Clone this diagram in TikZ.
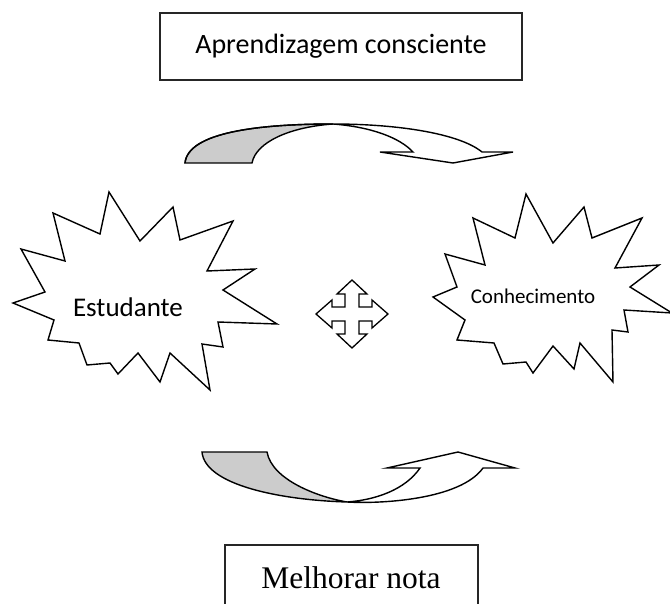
\documentclass[tikz,border=0pt]{standalone}
\usepackage{fontspec}
\setmainfont{Liberation Serif}
\newfontfamily\calib{Carlito}
\begin{document}
\begin{tikzpicture}[x=1pt,y=-1pt,
  outline/.style={draw=black,line width=1.4pt,line join=miter},
  boxline/.style={draw=black!85,line width=1.6pt},
  grayfill/.style={outline,fill=black!20},
  whitefill/.style={outline,fill=white}]
\useasboundingbox (0,0) rectangle (670,604);
\clip (0,0) rectangle (670,604);

% top box
\draw[boxline] (160,13) rectangle (522,80);
\node (top) at (341,46.5) {\calib\fontsize{28}{32}\selectfont Aprendizagem consciente};

% bottom box
\draw[boxline] (225,545) rectangle (478,640);
\node (bot) at (351,578) {\fontsize{31.5}{36}\selectfont Melhorar nota};

% Estudante star
\draw[outline] (109,192) -- (140,241) -- (173,207) -- (180,240) -- (233,221) -- (207,271)
  -- (255,269) -- (223,290) -- (277,324) -- (218,322) -- (223,347) -- (202,344)
  -- (210,390) -- (170,353) -- (160,382) -- (138,353) -- (118,374) -- (110,363)
  -- (87,365) -- (79,343) -- (48,340) -- (54,320) -- (13,303) -- (45,292)
  -- (21,249) -- (65,261) -- (53,213) -- (100,234) -- cycle;
\node (stud) at (128,307) {\calib\fontsize{27}{30}\selectfont Estudante};

% Conhecimento star
\draw[outline] (526,194) -- (553,243) -- (584,207) -- (592,238) -- (642,218) -- (615,268)
  -- (659,265) -- (630,287) -- (672,313) -- (624,310) -- (628,332) -- (612,330)
  -- (613,382) -- (580,343) -- (574,369) -- (553,346) -- (533,373) -- (526,362)
  -- (503,364) -- (494,343) -- (457,340) -- (465,320) -- (433,297) -- (457,287)
  -- (445,254) -- (485,265) -- (473,218) -- (515,238) -- cycle;
\node (know) at (533,296) {\calib\fontsize{21}{24}\selectfont Conhecimento};

% four-way arrow
\begin{scope}[shift={(352,314)}]
\draw[outline,line width=1.3pt] (0,-34) -- (15,-20) -- (7,-20) -- (7,-7) -- (20,-7) -- (20,-14)
  -- (36,0) -- (20,14) -- (20,7) -- (7,7) -- (7,20) -- (15,20) -- (0,34)
  -- (-15,20) -- (-7,20) -- (-7,7) -- (-20,7) -- (-20,14) -- (-36,0)
  -- (-20,-14) -- (-20,-7) -- (-7,-7) -- (-7,-20) -- (-15,-20) -- cycle;
\end{scope}

% top curved arrow
\coordinate (ta) at (333,124);
\draw[grayfill] (185,163) .. controls (188,132) and (260,124) .. (ta)
  .. controls (290,127) and (256,142) .. (252,163) -- cycle;
\draw[whitefill] (ta) .. controls (400,124) and (460,134) .. (482,152)
  -- (513,152) -- (453,163) -- (380,152) -- (413,152)
  .. controls (400,138) and (372,127) .. (ta);
\draw[outline] (185,163) .. controls (188,132) and (260,124) .. (ta);

% bottom curved arrow
\coordinate (ba) at (347,502);
\draw[grayfill] (202,452) -- (267,452) .. controls (272,480) and (318,497) .. (ba)
  .. controls (280,500) and (205,485) .. (202,452) -- cycle;
\draw[whitefill] (ba) .. controls (380,504) and (460,500) .. (483,468)
  -- (515,468) -- (458,452) -- (387,468) -- (420,468)
  .. controls (405,490) and (375,500) .. (ba);
\end{tikzpicture}
\end{document}
